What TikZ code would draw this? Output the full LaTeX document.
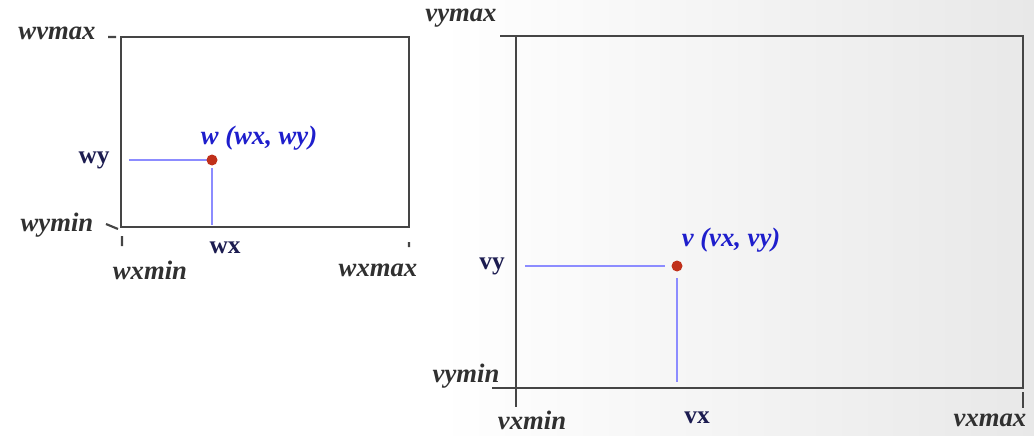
\documentclass[tikz,border=0pt]{standalone}
\usepackage{fontspec}
\setmainfont{Liberation Serif}
\definecolor{frame}{HTML}{454545}
\definecolor{limtext}{HTML}{303030}
\definecolor{navy}{HTML}{1C1C50}
\definecolor{ptblue}{HTML}{1E1ECC}
\definecolor{guideblue}{HTML}{8C8CFF}
\definecolor{dotred}{HTML}{C0301A}
\begin{document}
\begin{tikzpicture}[x=0.75pt, y=-0.75pt,
	lim/.style={font=\fontsize{20}{24}\selectfont\bfseries\itshape, text=limtext, inner sep=0pt},
	coord/.style={font=\fontsize{19}{23}\selectfont\bfseries, text=navy, inner sep=0pt},
	ptlabel/.style={font=\fontsize{20}{24}\selectfont\bfseries\itshape, text=ptblue, inner sep=0pt},
	box/.style={draw=frame, line width=2.2pt},
	tickmark/.style={draw=frame, line width=1.6pt},
	guide/.style={draw=guideblue, line width=0.9pt}]
	\useasboundingbox (0,0) rectangle (1034,435);
	% --- background ---
	\shade[left color=white, right color=gray!18] (440,0) rectangle (1034,435);
	% --- window (left) ---
	\draw[box] (121,37) rectangle (409,227);
	\draw[tickmark] (108,37) -- (116,37) (106,224) -- (118,229)
		(122,236) -- (122,246) (409,242) -- (409,247);
	% --- viewport (right) ---
	\draw[box] (516,36) rectangle (1023,388);
	\draw[box] (500,36) -- (516,36) (492,388) -- (516,388) (516,388) -- (516,407);
	\draw[tickmark] (1023,392) -- (1023,408);
	% --- limit labels ---
	\foreach \n/\p/\t in {wymax/{(57,33)}/wvmax, wymin/{(57,225)}/wymin,
		wxmin/{(150,270)}/wxmin, wxmax/{(378,270)}/wxmax,
		vymax/{(461,18)}/vymax, vymin/{(466,376)}/vymin,
		vxmin/{(532,420)}/vxmin, vxmax/{(990,420)}/vxmax}
	\node[lim] (\n) at \p {\t};
	% --- points ---
	\coordinate (w) at (212,160);
	\coordinate (v) at (677,266);
	\coordinate (wyfoot) at (129,160);
	\coordinate (wxfoot) at (212,225);
	\coordinate (vyfoot) at (525,266);
	\coordinate (vxfoot) at (677,382);
	\node[coord] (wy) at (94,160) {wy};
	\node[coord] (wx) at (225,248) {wx};
	\node[coord] (vy) at (492,266) {vy};
	\node[coord] (vx) at (697,418) {vx};
	\node[ptlabel] (wlab) at (259,138) {w (wx, wy)};
	\node[ptlabel] (vlab) at (731,240) {v (vx, vy)};
	\draw[guide] (wyfoot) -- (w) (w) ++(0,8) -- (wxfoot);
	\draw[guide] (vyfoot) -- ++(140,0) (v) ++(0,12) -- (vxfoot);
	\foreach \p in {w,v}
	\fill[dotred] (\p) circle (5.5);
\end{tikzpicture}
\end{document}
